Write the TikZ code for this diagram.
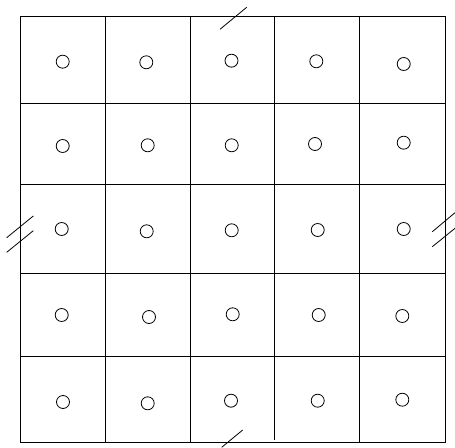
\documentclass[tikz,border=0pt]{standalone}
\begin{document}
\begin{tikzpicture}[x=1bp,y=-1bp,
  gridline/.style={line width=0.8pt,black},
  breakmark/.style={line width=0.8pt,black},
  hole/.style={circle,draw,line width=0.8pt,minimum size=13bp,inner sep=0pt}]
\useasboundingbox (0,0) rectangle (455,448);
% outer border
\draw[gridline] (20,16.8) rectangle (445.3,442.7);
% horizontal lines
\foreach \y in {103.3,184.3,273,356.3}
  \draw[gridline] (20,\y) -- (445.3,\y);
% vertical lines
\draw[gridline] (105,16.8) -- (105,442.7);
\draw[gridline] (190,16.8) -- (190,442.7);
\draw[gridline] (274.5,16) -- (274.5,439.5);
\draw[gridline] (359.5,16.8) -- (359.5,442.7);
% circles
\foreach \x/\y [count=\i] in {
  62.7/61.7, 146.3/62.3, 231.5/60.7, 316.3/61.3, 403.7/64,
  62.7/146, 147.7/145.3, 231.7/145.3, 315/144, 403.7/142.7,
  61.7/229, 146.7/231.3, 231.7/230.3, 317.7/230, 403.7/229,
  61.7/315, 149/317, 232.7/314.3, 318.7/315, 402.3/316,
  63/402, 147.7/403.3, 231/400.7, 317.7/400.7, 402.3/399.7}
  \node[hole] (c\i) at (\x,\y) {};
% break marks
\coordinate (t1) at (220,29.3);   \coordinate (t2) at (246.7,7.3);
\draw[breakmark] (t1) -- (t2);
\coordinate (b1) at (221.7,447.3); \coordinate (b2) at (242.7,430);
\draw[breakmark] (b1) -- (b2);
\coordinate (l1) at (6.7,237.7);  \coordinate (l2) at (33.3,216);
\coordinate (l3) at (6.7,252.3);  \coordinate (l4) at (33.3,230.7);
\draw[breakmark] (l1) -- (l2);
\draw[breakmark] (l3) -- (l4);
\coordinate (r1) at (432.3,231.7); \coordinate (r2) at (455,212.7);
\coordinate (r3) at (432.3,246.7); \coordinate (r4) at (455,228.3);
\draw[breakmark] (r1) -- (r2);
\draw[breakmark] (r3) -- (r4);
\end{tikzpicture}
\end{document}
